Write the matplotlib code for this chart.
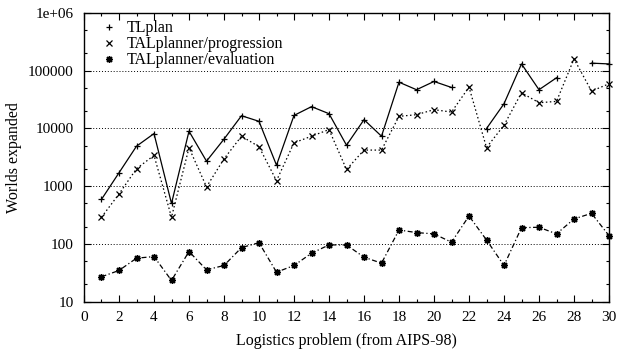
import numpy as np
import matplotlib
matplotlib.use("Agg")
import matplotlib.pyplot as plt
from matplotlib.lines import Line2D
from matplotlib.ticker import FixedLocator, NullFormatter

problems = list(range(1, 31))
tlplan = [590, 1700, 4900, 8100, 500, 8900, 2700, 6500, 16500, 13200,
          2300, 16700, 23700, 17900, 5100, 14100, 7300, 62800, 46500, 64600,
          50900, np.nan, 9900, 26600, 130000, 46500, 74800, np.nan, 134000, 130000]
tal_prog = [290, 730, 2000, 3400, 290, 4600, 970, 2960, 7300, 4800,
            1240, 5600, 7300, 9500, 1940, 4200, 4200, 16100, 17200, 21000,
            19100, 51600, 4650, 11300, 41200, 27700, 29200, 159000, 44000, 58900]
tal_eval = [27, 34.7, 56.6, 60.4, 23.3, 73.8, 35.6, 42.3, 86.3, 105,
            32.4, 42.3, 69, 96, 96, 58.9, 46.4, 174, 157, 149,
            107, 304, 117, 42.3, 191, 194, 149, 270, 338, 139]
series_names = ["TLplan", "TALplanner/progression", "TALplanner/evaluation"]
ytick_vals = [10, 100, 1000, 10000, 100000, 1000000]
ytick_labels = ["10", "100", "1000", "10000", "100000", "1e+06"]
xtick_vals = list(range(0, 31, 2))

plt.rcParams['font.family'] = ['Liberation Serif', 'DejaVu Serif']
plt.rcParams['font.size'] = 11

fig = plt.figure(figsize=(6.17, 3.51), dpi=100)
ax = fig.add_axes([84/617, 1 - 301.7/351, (609-84)/617, (301.7-12.7)/351])

lw = 0.9
star = (8, 2, 0)
ax.plot(problems, tlplan, color='black', linestyle='-', lw=lw, marker='+', ms=5, mew=0.9, clip_on=False, zorder=3)
ax.plot(problems, tal_prog, color='black', linestyle=(0, (1.2, 2.0)), lw=lw, marker='x', ms=4.5, mew=0.9, clip_on=False, zorder=3)
ax.plot(problems, tal_eval, color='black', linestyle=(0, (4, 2, 1, 2)), lw=lw, marker=star, ms=5, mew=1.0, clip_on=False, zorder=3)

ax.set_yscale('log')
ax.set_ylim(10, 1e6)
ax.set_xlim(0, 30)

for v in [100, 1000, 10000, 100000]:
    ax.axhline(v, color='black', linestyle=(0, (1, 2)), lw=0.7, zorder=1)

ax.yaxis.set_major_locator(FixedLocator(ytick_vals))
ax.set_yticklabels(ytick_labels)
minors = []
for d in [10, 100, 1000, 10000, 100000]:
    minors += [2*d, 5*d]
ax.yaxis.set_minor_locator(FixedLocator(minors))
ax.yaxis.set_minor_formatter(NullFormatter())
ax.xaxis.set_major_locator(FixedLocator(xtick_vals))
ax.xaxis.set_minor_locator(FixedLocator(list(range(1, 30, 2))))

ax.tick_params(which='both', direction='in', top=True, right=True, width=0.8, colors='black')
ax.tick_params(which='major', length=5)
ax.tick_params(which='minor', length=2.5)
ax.tick_params(axis='x', which='major', pad=6.5)
ax.tick_params(axis='y', which='major', pad=7.5)
for s in ax.spines.values():
    s.set_linewidth(1.0)

ax.set_xlabel("Logistics problem (from AIPS-98)", fontsize=11.5, labelpad=7)
ax.set_ylabel("Worlds expanded", fontsize=11.5, labelpad=4)

handles = [
    Line2D([], [], color='black', linestyle='none', marker='+', ms=5, mew=0.9),
    Line2D([], [], color='black', linestyle='none', marker='x', ms=4.5, mew=0.9),
    Line2D([], [], color='black', linestyle='none', marker=star, ms=5, mew=1.0),
]
leg = ax.legend(handles, series_names, loc='upper left', frameon=False,
                bbox_to_anchor=(0.0, 1.0), handlelength=1.0, handletextpad=0.6,
                labelspacing=0.0, borderaxespad=0.25, fontsize=11.5)
leg.set_bbox_to_anchor((0.012, 1.01), transform=ax.transAxes)

fig.savefig("out.png", dpi=100)
